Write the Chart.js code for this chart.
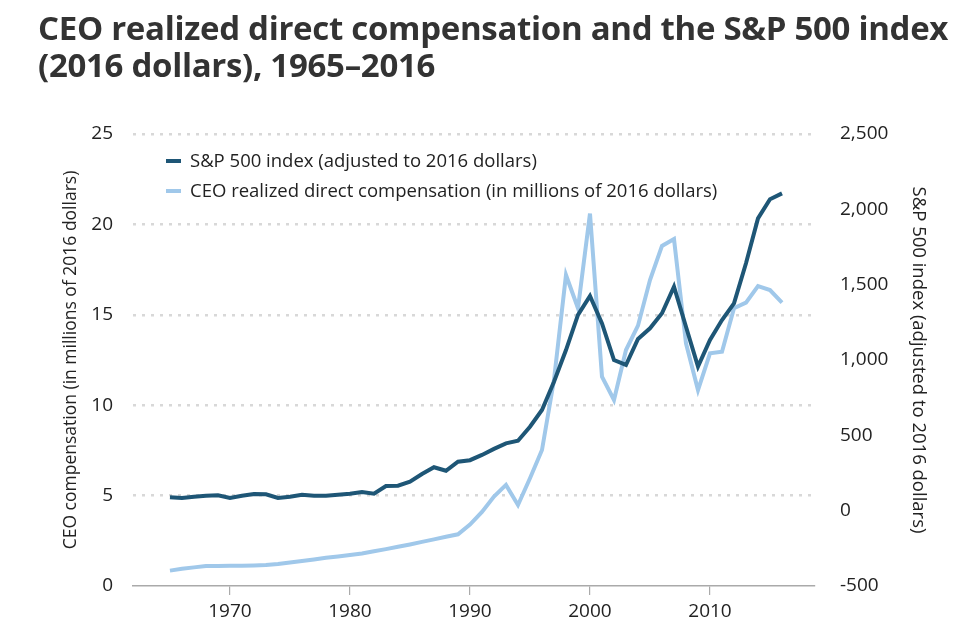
<!DOCTYPE html>
<html>
<head>
<meta charset="utf-8">
<script src="https://cdn.jsdelivr.net/npm/chart.js@4"></script>
<style>
  html, body { margin: 0; padding: 0; background: #fff; }
  #wrap { position: relative; width: 980px; height: 637px; overflow: hidden; }
  #title { position: absolute; left: 38px; top: 9px; font-family: "Open Sans", sans-serif; font-weight: 700; font-size: 33px; line-height: 37px; color: #333; white-space: nowrap; letter-spacing: -0.3px; }
  #chart { position: absolute; left: 0; top: 0; }
  .leg { position: absolute; left: 166px; font-family: "Open Sans", sans-serif; font-size: 18.5px; color: #222; white-space: nowrap; height: 22px; line-height: 22px; }
  .leg span.sw { display: inline-block; width: 15px; height: 4px; vertical-align: middle; margin-right: 9px; position: relative; top: -1px; }
</style>
</head>
<body>
<div id="wrap">
  <canvas id="chart" width="980" height="637"></canvas>
  <div id="title">CEO realized direct compensation and the S&amp;P 500 index<br>(2016 dollars), 1965–2016</div>
  <div class="leg" style="top:149px"><span class="sw" style="background:#1e5676"></span>S&amp;P 500 index (adjusted to 2016 dollars)</div>
  <div class="leg" style="top:179px"><span class="sw" style="background:#a0c8ea"></span>CEO realized direct compensation (in millions of 2016 dollars)</div>
</div>
<script>
const years = [1965,1966,1967,1968,1969,1970,1971,1972,1973,1974,1975,1976,1977,1978,1979,
  1980,1981,1982,1983,1984,1985,1986,1987,1988,1989,1990,1991,1992,1993,1994,1995,1996,1997,1998,1999,
  2000,2001,2002,2003,2004,2005,2006,2007,2008,2009,2010,2011,2012,2013,2014,2015,2016];

const sp500 = [89,84,93,99,102,84,99,111,109,84,93,106,99,99,106,
  113,124,113,164,166,192,243,288,265,325,335,370,410,447,464,557,668,856,1066,1299,
  1425,1243,1000,967,1140,1210,1310,1487,1221,956,1133,1265,1376,1642,1940,2067,2106];

const ceoComp = [0.85,0.95,1.03,1.10,1.11,1.12,1.12,1.14,1.16,1.22,1.30,1.38,1.47,1.56,1.63,
  1.71,1.80,1.92,2.04,2.17,2.30,2.44,2.58,2.72,2.86,3.40,4.10,4.95,5.59,4.48,5.96,7.52,11.40,17.20,15.36,
  20.60,11.58,10.29,13.05,14.40,16.92,18.81,19.19,13.42,10.84,12.87,12.96,15.36,15.67,16.59,16.37,15.67];

const xTicks = [1970,1980,1990,2000,2010];
const leftTicks = [0,5,10,15,20,25];
const rightTicks = [-500,0,500,1000,1500,2000,2500];

const seriesNames = ['S&P 500 index (adjusted to 2016 dollars)', 'CEO realized direct compensation (in millions of 2016 dollars)'];
const leftTitle = 'CEO compensation (in millions of 2016 dollars)';
const rightTitle = 'S&P 500 index (adjusted to 2016 dollars)';

const FONT = '"Open Sans", sans-serif';
const tickFont = { family: FONT, size: 19 };

new Chart(document.getElementById('chart'), {
  type: 'line',
  data: {
    datasets: [
      {
        label: seriesNames[0],
        data: years.map((y, i) => ({ x: y, y: sp500[i] })),
        yAxisID: 'y1',
        borderColor: '#1e5676',
        borderWidth: 4,
        pointRadius: 0,
        tension: 0,
        fill: false
      },
      {
        label: seriesNames[1],
        data: years.map((y, i) => ({ x: y, y: ceoComp[i] })),
        yAxisID: 'y',
        borderColor: '#a0c8ea',
        borderWidth: 4,
        pointRadius: 0,
        tension: 0,
        fill: false
      }
    ]
  },
  options: {
    responsive: false,
    animation: false,
    devicePixelRatio: 1,
    layout: { padding: { left: 57, right: 47, top: 134, bottom: 0 } },
    plugins: { legend: { display: false }, tooltip: { enabled: false } },
    scales: {
      x: {
        type: 'linear',
        min: 1961.92,
        max: 2018.75,
        afterBuildTicks: s => { s.ticks = xTicks.map(v => ({ value: v })); },
        afterFit: s => { s.height = 51; },
        ticks: { callback: v => String(v), font: tickFont, color: '#222', padding: 5, maxRotation: 0, autoSkip: false },
        grid: { drawOnChartArea: false, drawTicks: true, tickLength: 9, color: '#aaa', lineWidth: 1.2 },
        border: { display: true, color: '#aaa', width: 1.5 }
      },
      y: {
        position: 'left',
        min: 0,
        max: 25,
        afterBuildTicks: s => { s.ticks = leftTicks.map(v => ({ value: v })); },
        afterFit: s => { s.width = 76; },
        ticks: { font: tickFont, color: '#222', padding: 20 },
        grid: { color: c => (c.tick && c.tick.value === 0) ? 'rgba(0,0,0,0)' : '#d8d8d8', lineWidth: 2.5, drawTicks: false },
        border: { display: false, dash: [3, 6] },
        title: { display: true, text: leftTitle, font: { family: FONT, size: 17.5 }, color: '#222', padding: { top: 4, bottom: 4 } }
      },
      y1: {
        position: 'right',
        min: -500,
        max: 2500,
        afterBuildTicks: s => { s.ticks = rightTicks.map(v => ({ value: v })); },
        afterFit: s => { s.width = 118; },
        ticks: { font: tickFont, color: '#222', padding: 25, callback: v => v.toLocaleString('en-US') },
        grid: { display: false, drawTicks: false },
        border: { display: false },
        title: { display: true, text: rightTitle, font: { family: FONT, size: 18.5 }, color: '#222', padding: { top: 4, bottom: 4 } }
      }
    }
  }
});
</script>
</body>
</html>
